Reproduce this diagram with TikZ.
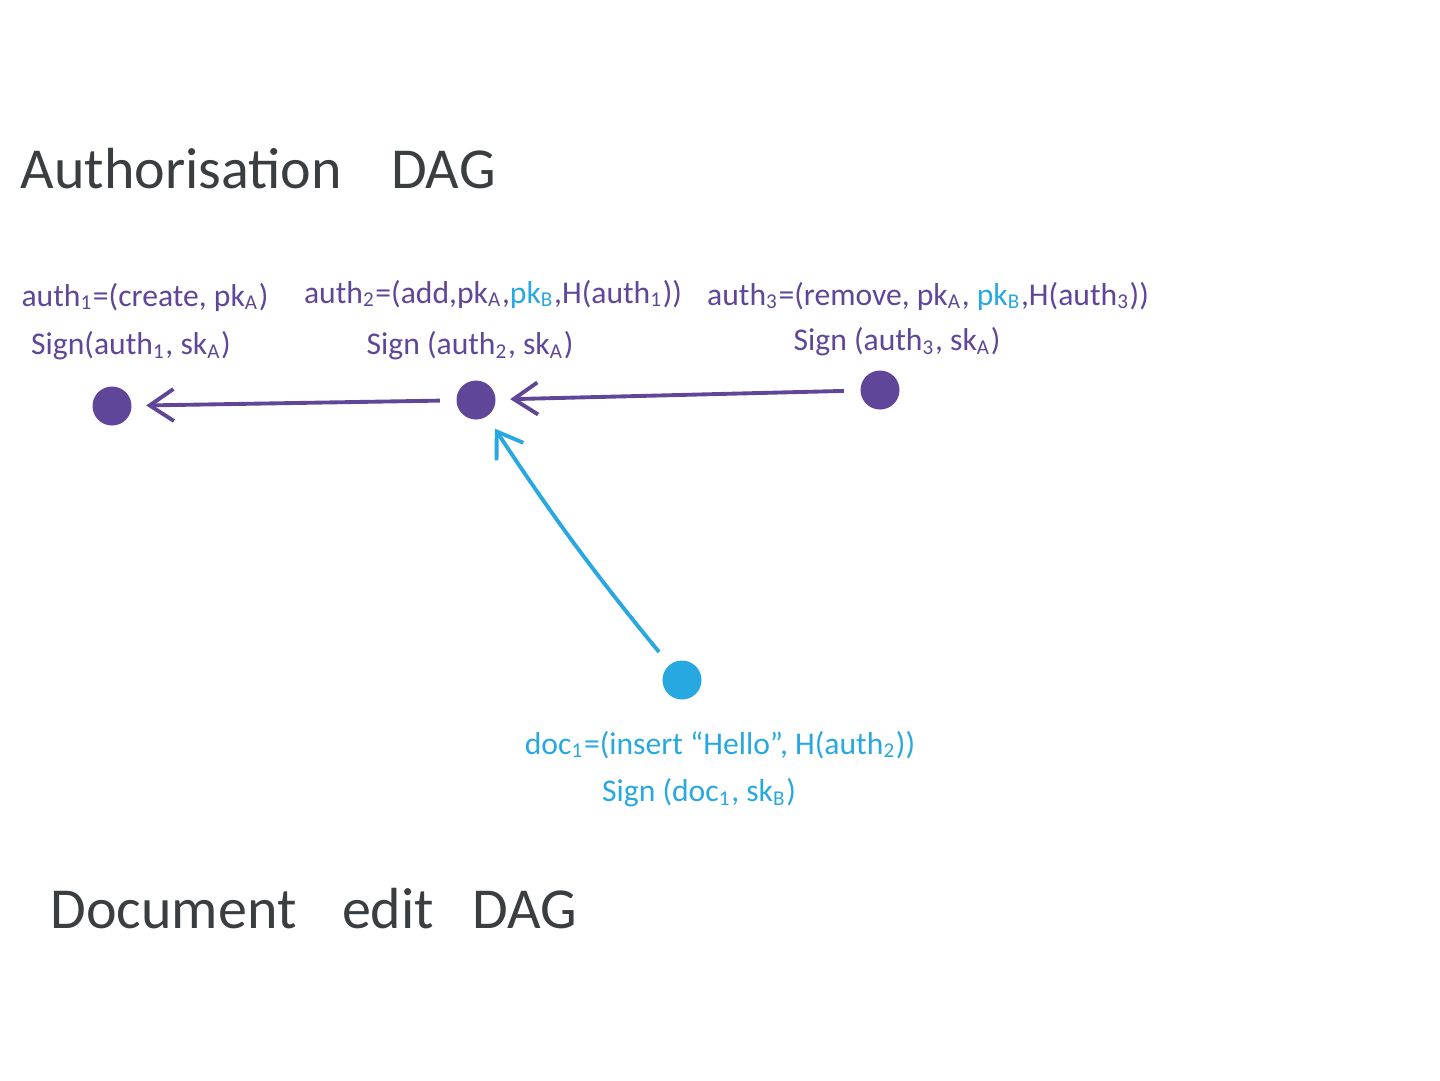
\documentclass[tikz,border=0pt]{standalone}
\usepackage{fontspec}
\setmainfont{Carlito}
\usetikzlibrary{arrows.meta,positioning}
\definecolor{DAGpurple}{RGB}{96,70,152}
\definecolor{DAGcyan}{RGB}{40,168,224}
\definecolor{DAGink}{RGB}{58,62,64}
\newcommand{\idx}[1]{\textsubscript{#1}}
\newcommand{\pkB}{\textcolor{DAGcyan}{pk\idx{B}}}
\tikzset{
  op/.style={circle,fill=DAGpurple,inner sep=0pt,minimum size=3.9mm},
  docop/.style={op,fill=DAGcyan},
  opl/.style={text=DAGpurple,inner sep=1pt,font=\fontsize{9}{11}\selectfont},
  docl/.style={opl,text=DAGcyan},
  heading/.style={text=DAGink,inner sep=0pt,anchor=base west,font=\fontsize{16.5}{20}\selectfont},
  ref/.style={-{Straight Barb[length=2.4mm,width=3.2mm]},line width=1.1pt,draw=DAGpurple,
              shorten >=1.4mm,shorten <=1.6mm},
  docref/.style={ref,draw=DAGcyan}
}
\begin{document}
\begin{tikzpicture}[x=0.1mm,y=-0.1mm]
  \useasboundingbox (0,0) rectangle (1440,1080);
  \node[heading] (authdag) at (20,188) {Authorisation\hspace{14pt}DAG};
  \node[heading] (docdag) at (50,928) {Document\hspace{13pt}edit\hspace{11pt}DAG};

  \node[op] (auth1) at (112,406) {};
  \node[op] (auth2) at (476,400) {};
  \node[op] (auth3) at (880,390) {};
  \node[docop] (doc1) at (682,680) {};

  \node[opl] (auth1op) at (145,297) {auth\idx{1}=(create, pk\idx{A})};
  \node[opl] (auth1sig) at (131,346) {Sign(auth\idx{1}, sk\idx{A})};
  \node[opl] (auth2op) at (493,294) {auth\idx{2}=(add,pk\idx{A},\pkB,H(auth\idx{1}))};
  \node[opl] (auth2sig) at (470,346) {Sign (auth\idx{2}, sk\idx{A})};
  \node[opl] (auth3op) at (928,296) {auth\idx{3}=(remove, pk\idx{A}, \pkB,H(auth\idx{3}))};
  \node[opl] (auth3sig) at (897,342) {Sign (auth\idx{3}, sk\idx{A})};
  \node[docl] (doc1op) at (720,745) {doc\idx{1}=(insert ``Hello'', H(auth\idx{2}))};
  \node[docl] (doc1sig) at (699,793) {Sign (doc\idx{1}, sk\idx{B})};

  \draw[ref] (auth2) -- (auth1);
  \draw[ref] (auth3) -- (auth2);
  \draw[docref] (doc1) to[bend left=3] (auth2);
\end{tikzpicture}
\end{document}
